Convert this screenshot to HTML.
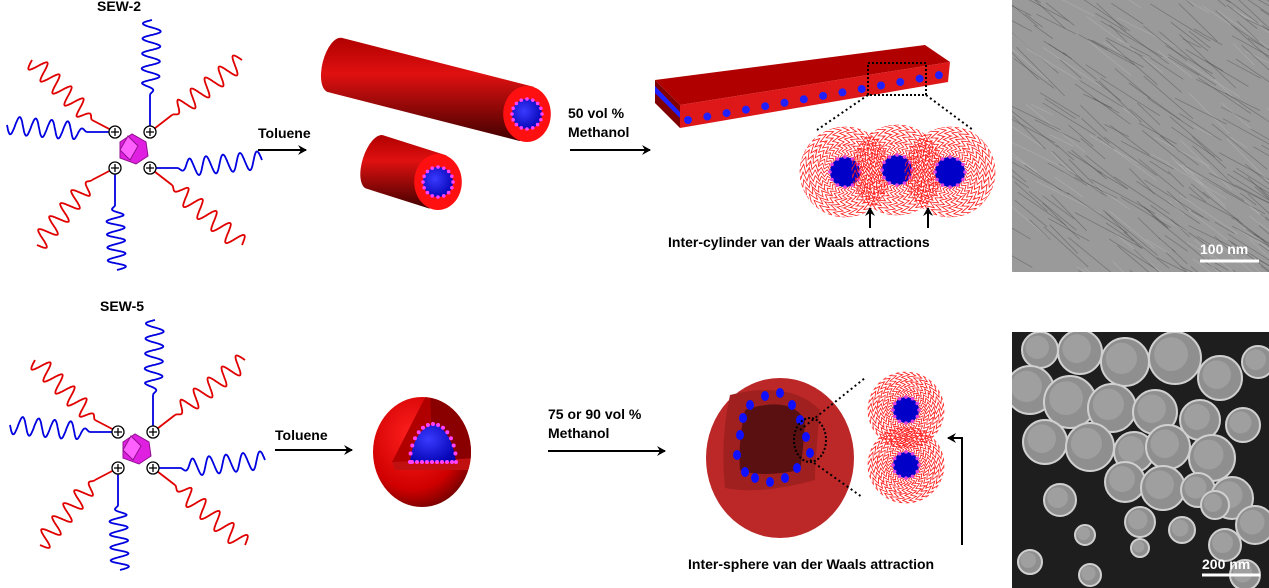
<!DOCTYPE html>
<html><head><meta charset="utf-8"><style>
html,body{margin:0;padding:0;background:#fff;}
svg{display:block;}
text{font-family:"Liberation Sans",sans-serif;font-weight:bold;fill:#000;}
</style></head><body>
<svg id="s" width="1269" height="588" viewBox="0 0 1269 588" xmlns="http://www.w3.org/2000/svg">
<defs>
<marker id="ah" markerWidth="10" markerHeight="10" refX="8" refY="5" orient="auto" markerUnits="userSpaceOnUse"><path d="M0,0 L9,5 L0,10 L3,5 Z" fill="#000"/></marker>
<radialGradient id="sph" cx="0.4" cy="0.35" r="0.7"><stop offset="0" stop-color="#ff2020"/><stop offset="0.7" stop-color="#d00000"/><stop offset="1" stop-color="#700000"/></radialGradient>
<linearGradient id="tube" x1="0" y1="0" x2="0" y2="1"><stop offset="0" stop-color="#b00000"/><stop offset="0.35" stop-color="#e01010"/><stop offset="1" stop-color="#400000"/></linearGradient>
<radialGradient id="core" cx="0.4" cy="0.4" r="0.7"><stop offset="0" stop-color="#3a3aff"/><stop offset="1" stop-color="#0000b0"/></radialGradient>
<clipPath id="tem"><rect x="1012" y="0" width="257" height="272"/></clipPath>
<clipPath id="sem"><rect x="1012" y="332" width="257" height="256"/></clipPath>
<clipPath id="s1"><ellipse cx="422" cy="452" rx="49" ry="55"/></clipPath>
</defs>
<g id="g"></g>

<text x="97" y="11" font-size="14">SEW-2</text>
<text x="100" y="311" font-size="14">SEW-5</text>
<text x="258" y="138" font-size="14">Toluene</text>
<line x1="258" y1="150" x2="306" y2="150" stroke="#000" stroke-width="2" marker-end="url(#ah)"/>
<text x="275" y="440" font-size="14">Toluene</text>
<line x1="275" y1="450" x2="352" y2="450" stroke="#000" stroke-width="2" marker-end="url(#ah)"/>
<text x="568" y="118" font-size="14">50 vol %</text>
<text x="568" y="137" font-size="14">Methanol</text>
<line x1="570" y1="150" x2="650" y2="150" stroke="#000" stroke-width="2" marker-end="url(#ah)"/>
<text x="548" y="419" font-size="14">75 or 90 vol %</text>
<text x="548" y="438" font-size="14">Methanol</text>
<line x1="548" y1="451" x2="665" y2="451" stroke="#000" stroke-width="2" marker-end="url(#ah)"/>
<text x="668" y="247" font-size="14">Inter-cylinder van der Waals attractions</text>
<text x="688" y="569" font-size="14">Inter-sphere van der Waals attraction</text>
</svg>
<script>
var NS="http://www.w3.org/2000/svg",G=document.getElementById('g');
function el(t,a,par){var e=document.createElementNS(NS,t);for(var k in a)e.setAttribute(k,a[k]);(par||G).appendChild(e);return e;}
function wave(x1,y1,x2,y2,amp,n,c){var dx=x2-x1,dy=y2-y1,L=Math.hypot(dx,dy),nx=-dy/L,ny=dx/L,p=[];
 for(var i=0;i<=200;i++){var t=i/200,w=Math.sin(t*n*2*Math.PI)*amp*Math.min(1,t*6);p.push((x1+dx*t+nx*w).toFixed(1)+','+(y1+dy*t+ny*w).toFixed(1));}
 el('polyline',{points:p.join(' '),fill:'none',stroke:c,'stroke-width':1.8});}
function star(cx,cy){
 var pl=[[-17,-18],[18,-18],[-17,18],[18,18]];
 var ch=[[-17,-18,-100,-90,'#e00000',-40,-30],[-17,-18,-125,-25,'#0000e0',-45,-18],[18,-18,20,-130,'#0000e0',18,-55],[18,-18,110,-90,'#e00000',40,-35],
 [18,18,130,10,'#0000e0',45,18],[18,18,110,95,'#e00000',40,35],[-17,18,-15,120,'#0000e0',-17,55],[-17,18,-95,95,'#e00000',-40,30]];
 ch.forEach(function(c){el('line',{x1:cx+c[0],y1:cy+c[1],x2:cx+c[5],y2:cy+c[6],stroke:c[4],'stroke-width':1.8});
  wave(cx+c[5],cy+c[6],cx+c[2],cy+c[3],9,5,c[4]);});
 el('polygon',{points:[cx-12,cy-8,cx,cy-16,cx+14,cy-8,cx+16,cy+6,cx+4,cy+14,cx-12,cy+8].join(','),fill:'#e020e0',stroke:'#901090'});
 el('polygon',{points:[cx-4,cy-14,cx+6,cy-4,cx-2,cy+10,cx-12,cy].join(','),fill:'#ff60ff',stroke:'#901090'});
 pl.forEach(function(p){el('circle',{cx:cx+p[0],cy:cy+p[1],r:6,fill:'#fff',stroke:'#000','stroke-width':1.3});
  el('path',{d:'M'+(cx+p[0]-4)+','+(cy+p[1])+'h8M'+(cx+p[0])+','+(cy+p[1]-4)+'v8',stroke:'#000','stroke-width':1.3});});}
star(132,150);star(135,450);
function tube(x1,y1,x2,y2,R,rc){var a=Math.atan2(y2-y1,x2-x1),nx=-Math.sin(a)*R,ny=Math.cos(a)*R;
 el('path',{d:'M'+(x1-nx)+','+(y1-ny)+'L'+(x2-nx)+','+(y2-ny)+'L'+(x2+nx)+','+(y2+ny)+'L'+(x1+nx)+','+(y1+ny)+'A'+(R*0.45)+','+R+' '+(a*180/Math.PI)+' 0 1 '+(x1-nx)+','+(y1-ny)+'Z',fill:'url(#tube)'});
 el('ellipse',{cx:x2,cy:y2,rx:R*0.85,ry:R,fill:'#ff1010'});
 el('circle',{cx:x2,cy:y2,r:rc,fill:'url(#core)'});
 for(var i=0;i<16;i++){var t=i/16*2*Math.PI;el('circle',{cx:x2+Math.cos(t)*rc,cy:y2+Math.sin(t)*rc,r:1.8,fill:'#ff40ff'});}}
tube(335,65,527,114,28,15);tube(375,162,438,182,28,15);
el('polygon',{points:'655,80 925,45 950,62 680,105',fill:'#b00000'});
el('polygon',{points:'680,105 950,62 948,82 680,128',fill:'#de1818'});
el('polygon',{points:'655,80 680,105 680,128 655,103',fill:'#800000'});
el('polygon',{points:'655,86 680,112 680,118 655,93',fill:'#2020ff'});
for(var i=0;i<14;i++){el('circle',{cx:688+i*19.3,cy:120-i*3.45,r:4,fill:'#2020ff'});}
el('rect',{x:868,y:63,width:58,height:32,fill:'none',stroke:'#000','stroke-width':2,'stroke-dasharray':'2,2'});
el('line',{x1:868,y1:95,x2:817,y2:130,stroke:'#000','stroke-width':2,'stroke-dasharray':'2,3'});
el('line',{x1:926,y1:95,x2:973,y2:130,stroke:'#000','stroke-width':2,'stroke-dasharray':'2,3'});
function hairy(cx,cy,R,rc){for(var k=0;k<34;k++){var a=k/34*2*Math.PI,pts=[];
 for(var j=0;j<=10;j++){var r=rc+(R-rc)*j/10,aa=a+((j%2)?0.1:-0.1)+j*0.03;pts.push((cx+Math.cos(aa)*r).toFixed(1)+','+(cy+Math.sin(aa)*r).toFixed(1));}
 el('polyline',{points:pts.join(' '),fill:'none',stroke:'#ff1a1a','stroke-width':0.8});}
 for(var q=0;q<3;q++)el('circle',{cx:cx,cy:cy,r:R-q*9,fill:'none',stroke:'#ff3030','stroke-width':0.6,'stroke-dasharray':'4,3'});
 el('circle',{cx:cx,cy:cy,r:rc,fill:'#0000c8'});
 for(var i=0;i<12;i++){var t=i/12*2*Math.PI;el('circle',{cx:cx+Math.cos(t)*rc,cy:cy+Math.sin(t)*rc,r:1.8,fill:'#e040e0'});}}
hairy(845,172,45,15);hairy(897,170,45,15);hairy(950,172,45,15);
[[870,228],[928,228]].forEach(function(p){el('line',{x1:p[0],y1:p[1],x2:p[0],y2:p[1]-20,stroke:'#000','stroke-width':2,'marker-end':'url(#ah)'});});
// sphere 1
el('ellipse',{cx:422,cy:452,rx:49,ry:55,fill:'url(#sph)'});
var c1=el('g',{'clip-path':'url(#s1)'});
el('path',{d:'M430,388 L392,462 L432,462 Z',fill:'#b00000'},c1);
el('path',{d:'M430,388 Q465,395 480,458 L432,462 Z',fill:'#8a0000'},c1);
el('path',{d:'M392,462 L480,458 L470,470 L395,470 Z',fill:'#c01010'},c1);
el('path',{d:'M410,462 Q414,428 435,424 Q452,432 456,462 Z',fill:'url(#core)'});
for(var i=0;i<=14;i++){var t=i/14,ang=Math.PI*t;el('circle',{cx:(433-23*Math.cos(ang)).toFixed(1),cy:(462-38*Math.sin(ang)).toFixed(1),r:2,fill:'#ff40ff'});}
for(var i=0;i<9;i++)el('circle',{cx:412+i*5,cy:462,r:2,fill:'#ff40ff'});
// sphere 2
el('ellipse',{cx:780,cy:458,rx:74,ry:80,fill:'#bc2828'});
el('path',{d:'M730,395 Q790,380 820,410 Q815,460 815,480 Q760,495 725,488 Q720,440 730,395Z',fill:'#a02020'});
el('path',{d:'M745,410 Q790,395 805,420 Q803,455 800,470 Q760,478 740,470 Q738,440 745,410Z',fill:'#5a1010'});
[[737,455],[740,435],[743,418],[750,405],[765,396],[780,393],[792,405],[800,420],[806,437],[810,453],[797,468],[785,478],[770,482],[755,478],[745,472]].forEach(function(p){el('ellipse',{cx:p[0],cy:p[1],rx:4,ry:5,fill:'#1010ff'});});
el('ellipse',{cx:810,cy:440,rx:16,ry:22,fill:'none',stroke:'#000','stroke-width':2,'stroke-dasharray':'2,2'});
el('line',{x1:800,y1:430,x2:865,y2:378,stroke:'#000','stroke-width':2,'stroke-dasharray':'2,3'});
el('line',{x1:810,y1:460,x2:862,y2:497,stroke:'#000','stroke-width':2,'stroke-dasharray':'2,3'});
hairy(906,410,38,13);hairy(906,465,38,13);
el('polyline',{points:'962,545 962,438 948,438',fill:'none',stroke:'#000','stroke-width':2,'marker-end':'url(#ah)'});
var tg=el('g',{'clip-path':'url(#tem)'});
el('rect',{x:1012,y:0,width:257,height:272,fill:'#9a9a9a'},tg);
var rs=7;function rnd(){rs=(rs*16807)%2147483647;return rs/2147483647;}
for(var i=0;i<300;i++){var x=1000+rnd()*270,y=-20+rnd()*292,l=20+rnd()*60,a=0.45+rnd()*0.35;
 el('line',{x1:x,y1:y,x2:x+Math.cos(a)*l,y2:y+Math.sin(a)*l,stroke:rnd()<0.75?'#4a4a4a':'#bdbdbd','stroke-width':0.8,opacity:0.45},tg);}
el('text',{x:1200,y:254,'font-size':14,style:'fill:#fff'}).textContent='100 nm';
el('line',{x1:1200,y1:261,x2:1259,y2:261,stroke:'#fff','stroke-width':3});
var sg=el('g',{'clip-path':'url(#sem)'});
el('rect',{x:1012,y:332,width:257,height:256,fill:'#1e1e1e'},sg);
var sp=[[1040,350,18],[1080,352,22],[1125,362,24],[1175,358,26],[1220,378,22],[1258,362,16],[1030,390,24],[1070,402,26],[1112,408,24],[1155,412,22],[1200,420,20],[1243,425,17],[1045,442,22],[1090,447,24],[1134,452,20],[1168,447,22],[1212,458,23],[1125,482,20],[1163,488,22],[1198,490,17],[1232,498,21],[1255,525,19],[1060,500,16],[1140,522,15],[1182,530,13],[1225,545,16],[1030,562,12],[1140,548,9],[1090,575,11],[1245,575,15],[1215,505,14],[1085,535,10]];
sp.forEach(function(s){el('circle',{cx:s[0],cy:s[1],r:s[2],fill:'#8f8f8f',stroke:'#d0d0d0','stroke-width':2},sg);el('circle',{cx:s[0]-s[2]*0.15,cy:s[1]-s[2]*0.15,r:s[2]*0.65,fill:'#aaaaaa',opacity:0.6},sg);});
el('text',{x:1202,y:569,'font-size':14,style:'fill:#fff'}).textContent='200 nm';
el('line',{x1:1202,y1:575,x2:1260,y2:575,stroke:'#fff','stroke-width':3});
</script>
</body></html>
